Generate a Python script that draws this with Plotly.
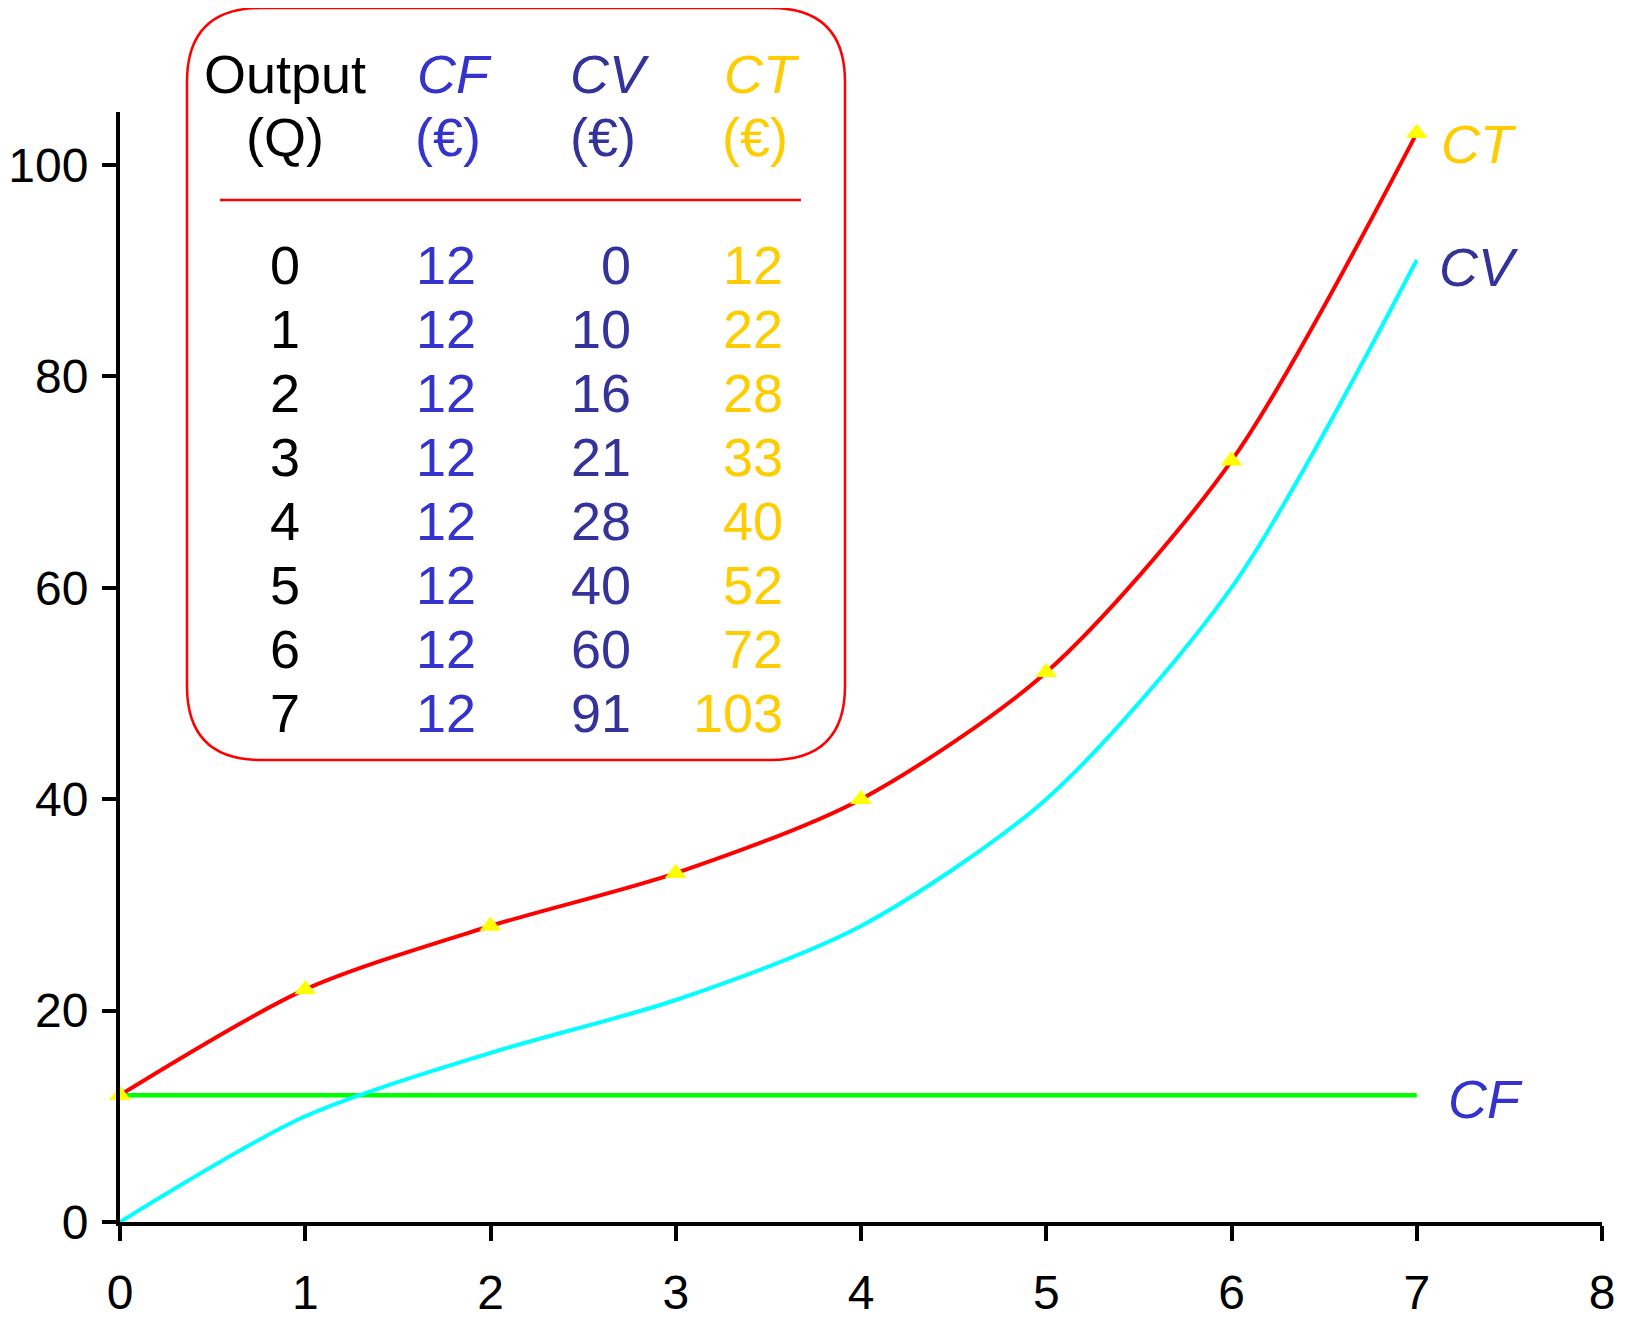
import plotly.graph_objects as go

# ---- data ----
output_q = [0, 1, 2, 3, 4, 5, 6, 7]
cf_vals = [12, 12, 12, 12, 12, 12, 12, 12]
cv_vals = [0, 10, 16, 21, 28, 40, 60, 91]
ct_vals = [12, 22, 28, 33, 40, 52, 72, 103]
x_ticks = [0, 1, 2, 3, 4, 5, 6, 7, 8]
y_ticks = [0, 20, 40, 60, 80, 100]

# ---- style ----
FONT = "Arial, Liberation Sans, Helvetica, sans-serif"
FS_TICK = 48
FS_TAB = 54
C_CF_TXT = "#3434CC"
C_CV_TXT = "#333399"
C_CT_TXT = "#FFCC00"
OFF = 8  # page body margin
W_FIG, H_FIG = 1626 - OFF, 1318 - OFF
# plot area in page pixel coordinates
L, R, T, B = 120, 1602, 112, 1222


def px(x):
    return (x - L) / (R - L)


def py(y):
    return (B - y) / (B - T)


fig = go.Figure()

fig.add_trace(go.Scatter(x=output_q, y=cf_vals, mode="lines",
                         line=dict(color="#00FF00", width=4.5),
                         cliponaxis=False, hoverinfo="skip"))
fig.add_trace(go.Scatter(x=output_q, y=cv_vals, mode="lines",
                         line=dict(color="#00FFFF", width=4, shape="spline", smoothing=0.8),
                         cliponaxis=False, hoverinfo="skip"))
fig.add_trace(go.Scatter(x=output_q, y=ct_vals, mode="lines+markers",
                         line=dict(color="#FF0000", width=4, shape="spline", smoothing=0.8),
                         marker=dict(symbol="triangle-up", size=19, color="#FFFF00",
                                     line=dict(width=0)),
                         cliponaxis=False, hoverinfo="skip"))

# curve labels
fig.add_annotation(x=7.12, y=ct_vals[-1] - 1, xref="x", yref="y", text="<i>CT</i>",
                   showarrow=False, xanchor="left", yanchor="middle",
                   font=dict(family=FONT, size=FS_TAB, color=C_CT_TXT))
fig.add_annotation(x=7.11, y=cv_vals[-1] - 0.7, xref="x", yref="y", text="<i>CV</i>",
                   showarrow=False, xanchor="left", yanchor="middle",
                   font=dict(family=FONT, size=FS_TAB, color=C_CV_TXT))
fig.add_annotation(x=7.16, y=cf_vals[-1] - 0.4, xref="x", yref="y", text="<i>CF</i>",
                   showarrow=False, xanchor="left", yanchor="middle",
                   font=dict(family=FONT, size=FS_TAB, color=C_CF_TXT))

# ---- table box (rounded rectangle) ----
bl, br, bt, bb, rad = 187, 845, 8, 760, 74
path = (
    f"M {px(bl + rad)},{py(bt)} L {px(br - rad)},{py(bt)} "
    f"Q {px(br)},{py(bt)} {px(br)},{py(bt + rad)} "
    f"L {px(br)},{py(bb - rad)} "
    f"Q {px(br)},{py(bb)} {px(br - rad)},{py(bb)} "
    f"L {px(bl + rad)},{py(bb)} "
    f"Q {px(bl)},{py(bb)} {px(bl)},{py(bb - rad)} "
    f"L {px(bl)},{py(bt + rad)} "
    f"Q {px(bl)},{py(bt)} {px(bl + rad)},{py(bt)} Z"
)
fig.add_shape(type="path", path=path, xref="paper", yref="paper",
              line=dict(color="#FF0000", width=2.5), fillcolor="rgba(255,255,255,0)",
              layer="above")
fig.add_shape(type="line", xref="paper", yref="paper",
              x0=px(220), x1=px(801), y0=py(200), y1=py(200),
              line=dict(color="#FF0000", width=2.5), layer="above")


def txt(x, y, s, color, anchor="center"):
    fig.add_annotation(x=px(x), y=py(y), xref="paper", yref="paper", text=s,
                       showarrow=False, xanchor=anchor, yanchor="middle",
                       font=dict(family=FONT, size=FS_TAB, color=color))


# headers
txt(285, 74, "Output", "#000000")
txt(285, 137, "(Q)", "#000000")
txt(454, 74, "<i>CF</i>", C_CF_TXT)
txt(448, 137, "(€)", C_CF_TXT)
txt(610, 74, "<i>CV</i>", C_CV_TXT)
txt(603, 137, "(€)", C_CV_TXT)
txt(762, 74, "<i>CT</i>", C_CT_TXT)
txt(755, 137, "(€)", C_CT_TXT)

row_y0, row_dy = 265, 64
for i, q in enumerate(output_q):
    yy = row_y0 + i * row_dy
    txt(285, yy, str(q), "#000000")
    txt(478, yy, str(cf_vals[i]), C_CF_TXT, "right")
    txt(633, yy, str(cv_vals[i]), C_CV_TXT, "right")
    txt(785, yy, str(ct_vals[i]), C_CT_TXT, "right")

axis_common = dict(showgrid=False, zeroline=False, showline=True, linecolor="#000000",
                   linewidth=4, ticks="outside", tickcolor="#000000", tickwidth=4,
                   automargin=False,
                   tickfont=dict(family=FONT, size=FS_TICK, color="#000000"))

fig.update_xaxes(range=[0, 8], tickvals=x_ticks, ticktext=[str(v) for v in x_ticks],
                 ticklen=15, ticklabelstandoff=10, **axis_common)
fig.update_yaxes(range=[0, 105], tickvals=y_ticks, ticktext=[str(v) for v in y_ticks],
                 ticklen=14, ticklabelstandoff=4, **axis_common)

fig.update_layout(width=W_FIG, height=H_FIG, autosize=False,
                  margin=dict(l=L - OFF, r=W_FIG - (R - OFF), t=T - OFF,
                              b=H_FIG - (B - OFF), pad=0, autoexpand=False),
                  paper_bgcolor="#FFFFFF", plot_bgcolor="#FFFFFF",
                  showlegend=False)

fig.write_html("out.html")
